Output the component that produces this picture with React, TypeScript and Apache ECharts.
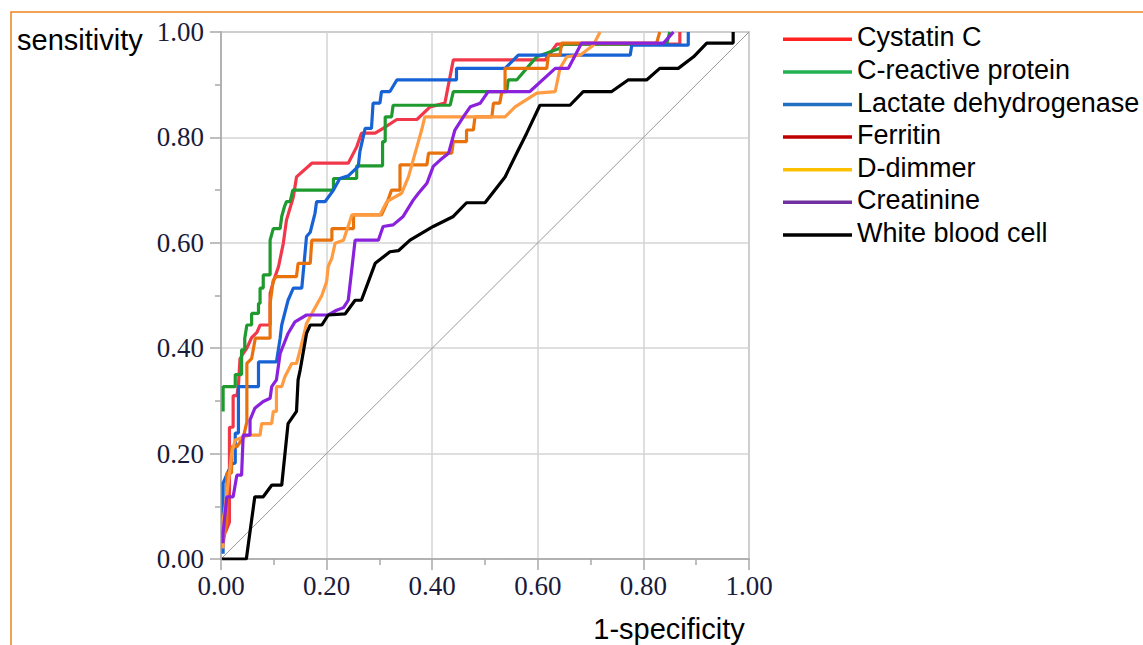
import React, { useEffect, useRef } from "react";
import * as echarts from "echarts";

const seriesNames = [
  "Cystatin C",
  "C-reactive protein",
  "Lactate dehydrogenase",
  "Ferritin",
  "D-dimmer",
  "Creatinine",
  "White blood cell",
];

const lineColors = ["#f0384a", "#1f9a2e", "#1763d6", "#e8730c", "#ff9b40", "#8a22dd", "#000000"];
const legendColors = ["#ff2020", "#20b050", "#1f70c0", "#c00000", "#ffc000", "#7030a0", "#000000"];

const cystatinC = [
  [0.008, 0.05], [0.016, 0.07], [0.016, 0.25], [0.023, 0.25], [0.023, 0.31], [0.03, 0.31],
  [0.033, 0.33], [0.036, 0.38], [0.042, 0.39], [0.049, 0.4], [0.058, 0.42], [0.068, 0.43],
  [0.074, 0.444], [0.093, 0.444], [0.093, 0.504], [0.099, 0.526], [0.109, 0.555], [0.118, 0.599],
  [0.124, 0.643], [0.137, 0.687], [0.143, 0.725], [0.172, 0.751], [0.241, 0.751], [0.257, 0.782],
  [0.266, 0.808], [0.292, 0.808], [0.307, 0.817], [0.333, 0.834], [0.371, 0.834], [0.396, 0.858],
  [0.424, 0.865], [0.44, 0.947], [0.614, 0.947], [0.636, 0.977], [0.869, 0.977], [0.869, 1.0],
];

const cReactiveProtein = [
  [0.004, 0.28], [0.004, 0.327], [0.027, 0.327], [0.027, 0.35], [0.039, 0.35], [0.039, 0.397],
  [0.045, 0.397], [0.045, 0.419], [0.049, 0.444], [0.058, 0.444], [0.058, 0.466], [0.071, 0.466],
  [0.071, 0.485], [0.074, 0.485], [0.074, 0.514], [0.08, 0.514], [0.08, 0.539], [0.093, 0.539],
  [0.093, 0.605], [0.099, 0.627], [0.112, 0.627], [0.115, 0.65], [0.12, 0.668], [0.124, 0.678],
  [0.131, 0.678], [0.136, 0.7], [0.213, 0.7], [0.213, 0.722], [0.257, 0.722], [0.257, 0.746],
  [0.306, 0.746], [0.306, 0.792], [0.311, 0.792], [0.311, 0.839], [0.323, 0.839], [0.326, 0.861],
  [0.434, 0.861], [0.44, 0.887], [0.541, 0.887], [0.544, 0.909], [0.56, 0.909], [0.579, 0.931],
  [0.598, 0.953], [0.642, 0.969], [0.648, 0.977], [0.844, 0.977], [0.85, 1.0],
];

const lactateDehydrogenase = [
  [0.004, 0.01], [0.004, 0.144], [0.011, 0.16], [0.02, 0.18], [0.027, 0.182], [0.027, 0.239],
  [0.033, 0.239], [0.033, 0.327], [0.071, 0.327], [0.071, 0.374], [0.105, 0.374], [0.112, 0.419],
  [0.115, 0.444], [0.127, 0.491], [0.137, 0.514], [0.153, 0.514], [0.162, 0.612], [0.169, 0.62],
  [0.178, 0.656], [0.181, 0.678], [0.197, 0.678], [0.213, 0.7], [0.225, 0.722], [0.241, 0.727],
  [0.26, 0.745], [0.263, 0.773], [0.273, 0.817], [0.285, 0.817], [0.288, 0.865], [0.301, 0.865],
  [0.304, 0.887], [0.32, 0.887], [0.333, 0.909], [0.446, 0.909], [0.446, 0.931], [0.538, 0.931],
  [0.563, 0.956], [0.775, 0.956], [0.778, 0.975], [0.885, 0.975], [0.885, 1.0],
];

const ferritin = [
  [0.004, 0.03], [0.011, 0.07], [0.011, 0.163], [0.02, 0.163], [0.02, 0.213], [0.03, 0.213],
  [0.042, 0.23], [0.049, 0.26], [0.049, 0.371], [0.058, 0.38], [0.065, 0.419], [0.093, 0.419],
  [0.093, 0.485], [0.099, 0.529], [0.105, 0.536], [0.143, 0.536], [0.146, 0.561], [0.169, 0.561],
  [0.172, 0.605], [0.21, 0.605], [0.21, 0.627], [0.251, 0.627], [0.251, 0.653], [0.304, 0.653],
  [0.314, 0.675], [0.323, 0.7], [0.339, 0.7], [0.339, 0.748], [0.39, 0.748], [0.393, 0.77],
  [0.437, 0.77], [0.44, 0.792], [0.465, 0.792], [0.465, 0.814], [0.478, 0.814], [0.481, 0.839],
  [0.513, 0.839], [0.516, 0.865], [0.528, 0.865], [0.532, 0.887], [0.538, 0.887], [0.538, 0.931],
  [0.617, 0.931], [0.62, 0.956], [0.642, 0.956], [0.645, 0.979], [0.825, 0.979], [0.831, 1.0],
];

const dDimmer = [
  [0.004, 0.02], [0.004, 0.074], [0.008, 0.1], [0.016, 0.163], [0.02, 0.2], [0.027, 0.226],
  [0.052, 0.235], [0.074, 0.235], [0.077, 0.257], [0.096, 0.257], [0.099, 0.28], [0.105, 0.28],
  [0.105, 0.327], [0.115, 0.327], [0.121, 0.346], [0.134, 0.371], [0.143, 0.371], [0.15, 0.397],
  [0.162, 0.447], [0.172, 0.466], [0.191, 0.5], [0.2, 0.526], [0.203, 0.555], [0.21, 0.571],
  [0.216, 0.599], [0.232, 0.605], [0.248, 0.653], [0.301, 0.653], [0.314, 0.678], [0.342, 0.694],
  [0.355, 0.725], [0.371, 0.782], [0.38, 0.814], [0.386, 0.839], [0.538, 0.839], [0.557, 0.858],
  [0.598, 0.884], [0.633, 0.887], [0.642, 0.931], [0.655, 0.953], [0.68, 0.956], [0.705, 0.975],
  [0.718, 1.0],
];

const creatinine = [
  [0.004, 0.03], [0.004, 0.05], [0.011, 0.118], [0.023, 0.118], [0.03, 0.159], [0.039, 0.159],
  [0.042, 0.235], [0.055, 0.235], [0.055, 0.264], [0.064, 0.286], [0.08, 0.299], [0.093, 0.305],
  [0.096, 0.327], [0.105, 0.34], [0.112, 0.39], [0.127, 0.428], [0.14, 0.45], [0.162, 0.463],
  [0.203, 0.463], [0.219, 0.472], [0.232, 0.477], [0.241, 0.491], [0.254, 0.605], [0.298, 0.605],
  [0.307, 0.631], [0.326, 0.634], [0.345, 0.65], [0.364, 0.681], [0.374, 0.694], [0.39, 0.713],
  [0.402, 0.745], [0.415, 0.757], [0.431, 0.77], [0.443, 0.814], [0.459, 0.839], [0.472, 0.858],
  [0.491, 0.865], [0.506, 0.887], [0.585, 0.887], [0.633, 0.931], [0.658, 0.931], [0.683, 0.979],
  [0.838, 0.979], [0.857, 1.0],
];

const whiteBloodCell = [
  [0.002, 0.0], [0.048, 0.0], [0.052, 0.03], [0.064, 0.118], [0.08, 0.118], [0.096, 0.14],
  [0.115, 0.14], [0.127, 0.257], [0.143, 0.28], [0.146, 0.34], [0.15, 0.359], [0.162, 0.428],
  [0.169, 0.444], [0.191, 0.444], [0.203, 0.463], [0.235, 0.465], [0.254, 0.491], [0.266, 0.491],
  [0.292, 0.561], [0.32, 0.583], [0.336, 0.585], [0.358, 0.605], [0.402, 0.631], [0.44, 0.65],
  [0.465, 0.676], [0.5, 0.676], [0.538, 0.725], [0.56, 0.77], [0.579, 0.808], [0.604, 0.861],
  [0.661, 0.861], [0.686, 0.887], [0.74, 0.887], [0.771, 0.909], [0.806, 0.909], [0.831, 0.931],
  [0.866, 0.931], [0.895, 0.953], [0.92, 0.979], [0.97, 0.979], [0.97, 1.0],
];

const referenceLine = [[0, 0], [1, 1]];

const allSeries = [cystatinC, cReactiveProtein, lactateDehydrogenase, ferritin, dDimmer, creatinine, whiteBloodCell];

export default function App() {
  const ref = useRef<HTMLDivElement>(null);
  useEffect(() => {
    document.body.style.margin = "0";
    if (!ref.current) return;
    const chart = echarts.init(ref.current, undefined, { renderer: "svg" });
    const axisCommon = {
      type: "value",
      min: 0,
      max: 1,
      interval: 0.2,
      axisLine: { show: true, onZero: false, lineStyle: { color: "#a8a8a8", width: 1.5 } },
      axisTick: { show: true, length: 11, lineStyle: { color: "#a8a8a8", width: 1.5 } },
      minorTick: { show: true, splitNumber: 2, length: 6, lineStyle: { color: "#a8a8a8", width: 1.5 } },
      splitLine: { show: true, lineStyle: { color: "#d4d4d4", width: 1.5 } },
      axisLabel: {
        fontFamily: "Liberation Serif",
        fontSize: 27,
        color: "#1a1a3a",
        formatter: (v: number) => v.toFixed(2),
      },
    };
    const legendGraphics: any[] = [];
    seriesNames.forEach((n, i) => {
      const ly = 39.3 + i * 32.6;
      legendGraphics.push({
        type: "line",
        shape: { x1: 783, y1: ly, x2: 852, y2: ly },
        style: { stroke: legendColors[i], lineWidth: 3.5 },
        silent: true,
      });
      legendGraphics.push({
        type: "text",
        x: 857,
        y: ly - 2,
        style: {
          text: n,
          fontFamily: "Liberation Sans",
          fontSize: 27,
          fill: "#000",
          verticalAlign: "middle",
        },
      });
    });
    chart.setOption({
      animation: false,
      backgroundColor: "#ffffff",
      grid: {
        left: 221,
        top: 32,
        width: 528,
        height: 527,
        show: true,
        borderColor: "#a8a8a8",
        borderWidth: 1.5,
        backgroundColor: "transparent",
      },
      xAxis: { ...axisCommon, axisLabel: { ...axisCommon.axisLabel, margin: 13 } },
      yAxis: { ...axisCommon, axisLabel: { ...axisCommon.axisLabel, margin: 17 } },
      graphic: [
        {
          type: "rect",
          shape: { x: 11, y: 12, width: 1300, height: 800 },
          style: { fill: "none", stroke: "#f0821e", lineWidth: 1.5 },
          silent: true,
        },
        {
          type: "text",
          x: 17,
          y: 40,
          style: {
            text: "sensitivity",
            fontFamily: "Liberation Sans",
            fontSize: 29,
            fill: "#000",
            verticalAlign: "middle",
          },
        },
        {
          type: "text",
          x: 669,
          y: 629,
          style: {
            text: "1-specificity",
            fontFamily: "Liberation Sans",
            fontSize: 29,
            fill: "#000",
            align: "center",
            verticalAlign: "middle",
          },
        },
        ...legendGraphics,
      ],
      series: [
        {
          name: "reference",
          type: "line",
          data: referenceLine,
          symbol: "none",
          silent: true,
          lineStyle: { color: "#9a9a9a", width: 1 },
        },
        ...allSeries.map((d, i) => ({
          name: seriesNames[i],
          type: "line",
          data: d,
          symbol: "none",
          color: lineColors[i],
          lineStyle: { color: lineColors[i], width: 3.2 },
        })),
      ],
    });
    return () => chart.dispose();
  }, []);
  return <div ref={ref} style={{ width: 1143, height: 645 }} />;
}
